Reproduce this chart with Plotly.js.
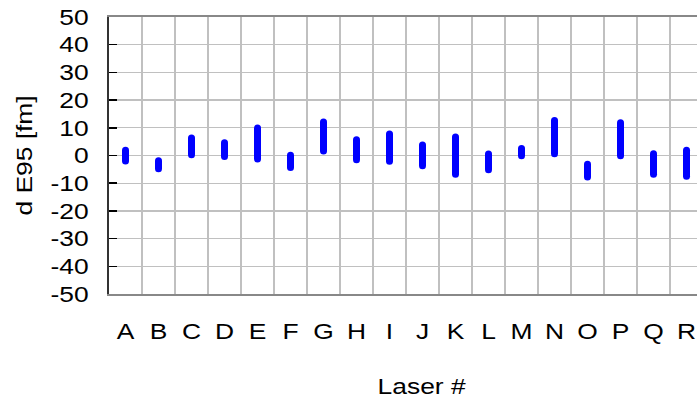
<!DOCTYPE html>
<html>
<head>
<meta charset="utf-8">
<script src="https://cdn.plot.ly/plotly-3.0.1.min.js"></script>
<style>
  html, body { margin: 0; padding: 0; background: #ffffff; overflow: hidden; }
  #chart { width: 697px; height: 401px; }
</style>
</head>
<body>
<div id="chart"></div>
<script>
// Lasers on the x axis
const lasers = ["A","B","C","D","E","F","G","H","I","J","K","L","M","N","O","P","Q","R"];
// Lower and upper end of the d E95 spread per laser [fm]
const lowFm  = [-2.0, -4.8, 0.3, -0.4, -1.3, -4.3, 1.6, -1.5, -2.1, -3.7, -6.8, -5.1, -0.1, 0.6, -7.8, -0.1, -6.8, -7.5];
const highFm = [ 1.9, -1.9, 6.3,  4.6,  9.9,  0.1, 12.1, 5.7,  7.8,  3.8,  6.7,  0.5,  2.5, 12.6, -3.2, 11.8, 0.6, 1.9];
const yTicks = [-50, -40, -30, -20, -10, 0, 10, 20, 30, 40, 50];

// One vertical segment per laser, separated by gaps
const segX = [], segY = [];
lasers.forEach((name, i) => {
  segX.push(name, name, name);
  segY.push(lowFm[i], highFm[i], null);
});

const FONT = "Liberation Sans, Arial, sans-serif";
const TEXT_STRETCH = 1.2;   // wide lettering of the labels
const boundaries = lasers.slice(1).map((_, i) => i + 0.5);

const data = [{
  type: "scatter",
  mode: "lines+markers",
  x: segX,
  y: segY,
  connectgaps: false,
  line: { color: "#0000ff", width: 7 },
  marker: { color: "#0000ff", size: 7, line: { width: 0 } },
  hoverinfo: "skip",
  cliponaxis: false
}];

const layout = {
  width: 697,
  height: 401,
  margin: { l: 109, r: 0, t: 17, b: 107 },
  paper_bgcolor: "#ffffff",
  plot_bgcolor: "#ffffff",
  showlegend: false,
  font: { family: FONT, size: 22, color: "#000000" },
  xaxis: {
    type: "category",
    categoryorder: "array",
    categoryarray: lasers,
    range: [-0.5, 17.318],
    tickson: "boundaries",
    ticks: "",
    showgrid: true,
    gridcolor: "#c0c0c0",
    gridwidth: 1.3,
    showline: true,
    mirror: true,
    linecolor: "#888888",
    linewidth: 2,
    ticklabelstandoff: 17,
    tickfont: { family: FONT, size: 22, color: "#000000" },
    zeroline: false
  },
  xaxis2: {
    type: "linear",
    overlaying: "x",
    anchor: "free",
    position: 0.5,
    side: "top",
    range: [-0.5, 17.318],
    tickmode: "array",
    tickvals: boundaries,
    ticks: "outside",
    ticklen: 8,
    tickwidth: 1.5,
    tickcolor: "#000000",
    showticklabels: false,
    showgrid: false,
    zeroline: false,
    showline: true,
    linecolor: "#000000",
    linewidth: 1.5
  },
  yaxis: {
    range: [-50, 50],
    tickmode: "array",
    tickvals: yTicks,
    ticktext: yTicks.map(String),
    ticks: "inside",
    ticklen: 8,
    tickwidth: 1.5,
    tickcolor: "#000000",
    showgrid: true,
    gridcolor: "#c0c0c0",
    gridwidth: 1.3,
    showline: true,
    mirror: false,
    linecolor: "#333333",
    linewidth: 2,
    zeroline: false,
    ticklabelstandoff: 14,
    tickfont: { family: FONT, size: 22, color: "#000000" },
    title: { text: "d E95 [fm]", font: { family: FONT, size: 22, color: "#000000" }, standoff: 18 }
  },
  annotations: [{
    text: "Laser #",
    xref: "paper",
    yref: "paper",
    x: 0.532,
    y: -0.28,
    xanchor: "center",
    yanchor: "top",
    showarrow: false,
    font: { family: FONT, size: 22, color: "#000000" }
  }]
};

Plotly.newPlot("chart", data, layout, { staticPlot: true, displayModeBar: false }).then(gd => {
  // widen every label along its baseline; right-aligned labels keep their
  // right edge, all others keep their centre
  gd.querySelectorAll("svg text").forEach(t => {
    if (!t.textContent.trim()) return;
    const box = t.getBBox();
    const anchor = t.getAttribute("text-anchor") || "start";
    const ox = anchor === "end" ? box.x + box.width : box.x + box.width / 2;
    const oy = box.y + box.height / 2;
    const prev = t.getAttribute("transform") || "";
    t.setAttribute("transform",
      `${prev} translate(${ox},${oy}) scale(${TEXT_STRETCH},1) translate(${-ox},${-oy})`);
  });
});
</script>
</body>
</html>
